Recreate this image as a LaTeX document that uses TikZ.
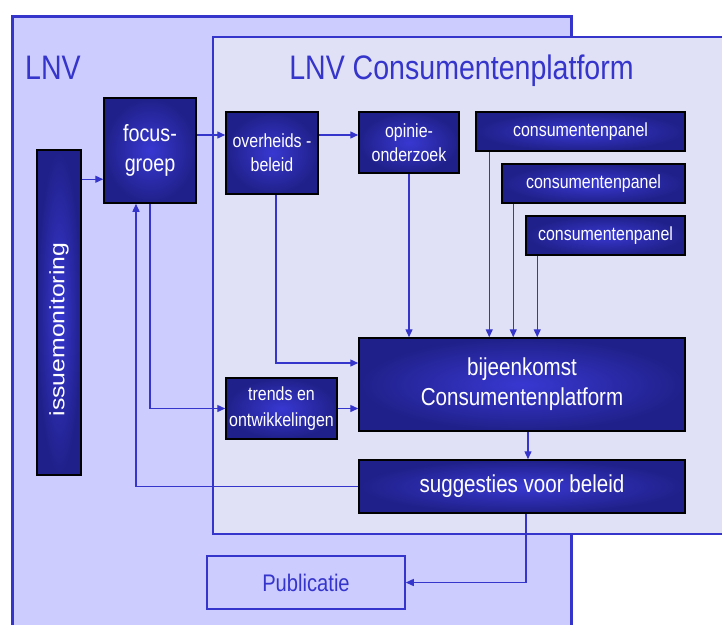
\documentclass[tikz,border=0pt]{standalone}
\usepackage{fontspec}
\setmainfont{Liberation Sans}[FakeStretch=0.84]
\newfontfamily\rechtfont{Liberation Sans}
\usetikzlibrary{arrows.meta}

\definecolor{lnvfill}{HTML}{CCCCFF}
\definecolor{platfill}{HTML}{E0E0F6}
\definecolor{lijn}{HTML}{3535CC}
\definecolor{boxdonker}{HTML}{20208A}
\definecolor{boxlicht}{HTML}{3838D2}

\begin{document}
\begin{tikzpicture}[x=1pt, y=-1pt]
\path[use as bounding box, clip] (0,0) rectangle (722,624);
\filldraw[fill=lnvfill, draw=lijn, line width=3pt] (12,16.5) rectangle (571,660);
\filldraw[fill=platfill, draw=lijn, line width=1.5pt] (213,37) rectangle (760,534);
\node[text=lijn, font=\fontsize{34}{40}\selectfont, anchor=base west, inner sep=0pt] (lnv) at (25,79) {LNV};
\node[text=lijn, font=\fontsize{34}{40}\selectfont, anchor=base, inner sep=0pt] (platform) at (461.5,79) {LNV Consumentenplatform};
\begin{scope}[every node/.style={draw=black, line width=1.5pt, inner color=boxlicht, outer color=boxdonker, text=white, align=center, inner sep=0pt, font=\fontsize{19}{24}\selectfont}]
    \node[minimum width=44pt, minimum height=325pt] (issue) at (59,312.5) {\rotatebox{90}{\scalebox{1}[0.84]{\rechtfont\fontsize{24.8}{30}\selectfont issuemonitoring\hspace*{34pt}}}};
    \node[minimum width=92pt, minimum height=105pt, font=\fontsize{23.5}{30}\selectfont] (focus) at (150,150.5) {focus-\\groep};
    \node[minimum width=92pt, minimum height=82pt] (overheid) at (272,153) {overheids -\\beleid};
    \node[minimum width=100pt, minimum height=61pt] (opinie) at (409,142.5) {opinie-\\onderzoek};
    \node[minimum width=209pt, minimum height=39pt] (panel1) at (580.5,131.5) {consumentenpanel};
    \node[minimum width=183pt, minimum height=39pt] (panel2) at (593.5,183.5) {consumentenpanel};
    \node[minimum width=159pt, minimum height=39pt] (panel3) at (605.5,235.5) {consumentenpanel};
    \node[minimum width=111pt, minimum height=61pt, font=\fontsize{19}{26}\selectfont] (trends) at (281.5,408.5) {trends en\\ontwikkelingen};
    \node[minimum width=326pt, minimum height=93pt, font=\fontsize{24.5}{30}\selectfont] (meeting) at (522,384.5) {bijeenkomst\\Consumentenplatform};
    \node[minimum width=326pt, minimum height=53pt, font=\fontsize{24.5}{30}\selectfont] (advies) at (522,486.5) {suggesties voor beleid};
\end{scope}
\node[draw=lijn, line width=1.5pt, text=lijn, minimum width=198pt, minimum height=53pt, inner sep=0pt, font=\fontsize{24}{30}\selectfont] (publicatie) at (306,582.5) {Publicatie};

\coordinate (i1) at ([yshift=-30pt]issue.north east);
\coordinate (f1) at ([yshift=15.5pt]focus.east);
\coordinate (f2) at ([xshift=-14pt]focus.south);
\coordinate (o1) at ([yshift=18pt]overheid.east);
\coordinate (h1) at ([xshift=4pt]overheid.south);
\coordinate (m1) at ([yshift=21.5pt]meeting.west);
\coordinate (m2) at ([xshift=6pt]meeting.south);
\coordinate (p1) at ([xshift=14pt]panel1.south west);
\coordinate (p2) at ([xshift=12pt]panel2.south west);
\coordinate (p3) at ([xshift=12pt]panel3.south west);
\coordinate (a1) at ([xshift=4pt]advies.south);
\begin{scope}[>={Triangle[length=8pt,width=7pt]}, every edge/.style={draw=lijn, line width=1.4pt}, haaks/.style={to path={|- (\tikztotarget) \tikztonodes}}, haakx/.style={to path={-| (\tikztotarget) \tikztonodes}}]

    \path [->] (i1) edge (i1 -| focus.west);
    \path [->] (f1) edge (f1 -| overheid.west);
    \path [->] (o1) edge (o1 -| opinie.west);
    \path [->] (focus.south) edge[haaks] (trends.west);
    \path [->] (advies.west) edge[haakx] (f2);
    \path [->] (h1) edge[haaks] (m1);
    \path [->] (trends.east) edge (trends.east -| meeting.west);
    \path [->] (opinie.south) edge (opinie.south |- meeting.north);
    \path [->] (p1) edge (p1 |- meeting.north);
    \path [->] (p2) edge (p2 |- meeting.north);
    \path [->] (p3) edge (p3 |- meeting.north);
    \path [->] (m2) edge (m2 |- advies.north);
    \path [->] (a1) edge[haaks] (publicatie.east);
\end{scope}
\end{tikzpicture}
\end{document}
